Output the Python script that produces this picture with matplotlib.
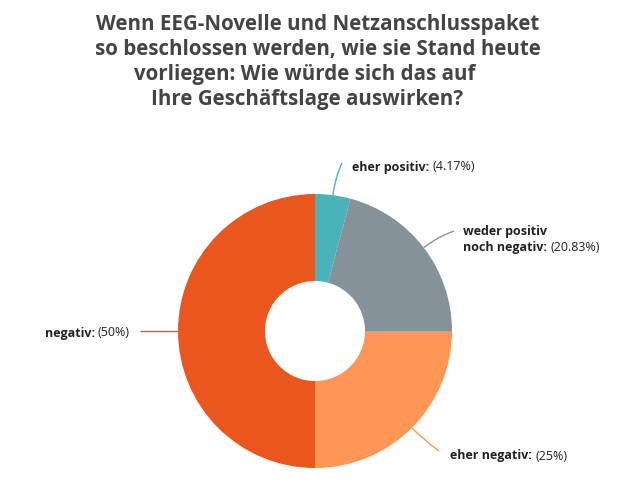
import numpy as np
import matplotlib
matplotlib.use("Agg")
import matplotlib.pyplot as plt
from matplotlib.path import Path
from matplotlib.patches import PathPatch

plt.rcParams['font.family'] = ['Open Sans', 'DejaVu Sans']

# data
categories = ["eher positiv", "weder positiv\nnoch negativ", "eher negativ", "negativ"]
values = [4.17, 20.83, 25, 50]
colors = ["#4ab3b9", "#86929a", "#ff9655", "#eb561e"]
title_lines = ["Wenn EEG-Novelle und Netzanschlusspaket",
               "so beschlossen werden, wie sie Stand heute",
               "vorliegen: Wie würde sich das auf",
               "Ihre Geschäftslage auswirken?"]

W, H = 643, 490
fig = plt.figure(figsize=(W / 100, H / 100), dpi=100)
ax = fig.add_axes([0, 0, 1, 1])

cx, cy = 315, H - 331
R, r_hole = 137, 50
ax.pie(values, colors=colors, startangle=90, counterclock=False,
       center=(cx, cy), radius=R, frame=True,
       wedgeprops=dict(width=R - r_hole, linewidth=0))
ax.set_xlim(0, W)
ax.set_ylim(0, H)
ax.set_aspect('equal')
ax.axis('off')

# connector end points (pixels from top-left) and text anchors
ends = [(342, 163), (454, 231), (439, 451), (140, 331)]
text_pos = [(352, 167, 'left'), (463, 240, 'left'), (450, 456, 'left'), (130, 333, 'right')]

cum = np.cumsum([0] + values)
fs = 9
for i, (cat, v) in enumerate(zip(categories, values)):
    mid = (cum[i] + v / 2) / 100 * 2 * np.pi
    ux, uy = np.sin(mid), np.cos(mid)
    p0 = (cx + R * ux, cy + R * uy)
    p1 = (cx + (R + 18) * ux, cy + (R + 18) * uy)
    ex, ey = ends[i]
    p2 = (ex, H - ey)
    if i == 3:
        path = Path([p0, p2], [Path.MOVETO, Path.LINETO])
    else:
        path = Path([p0, p1, p2], [Path.MOVETO, Path.CURVE3, Path.CURVE3])
    ax.add_patch(PathPatch(path, facecolor='none', edgecolor=colors[i], lw=1))

    tx, ty, ha = text_pos[i]
    lines = cat.split("\n")
    pct = f"({v:g}%)"
    t = None
    if len(lines) == 2:
        ax.text(tx, H - (ty - 8), lines[0], fontsize=fs, fontweight='bold',
                color='#222222', ha='left', va='center')
        t = ax.text(tx, H - (ty + 8), lines[1] + ": ", fontsize=fs, fontweight='bold',
                    color='#222222', ha='left', va='center')
    if ha == 'left':
        if t is None:
            t = ax.text(tx, H - ty, lines[0] + ": ", fontsize=fs, fontweight='bold',
                        color='#222222', ha='left', va='center')
        ax.annotate(pct, xycoords=t, xy=(1, 0.5), va='center', ha='left',
                    fontsize=fs, color='#222222')
    else:
        t2 = ax.text(tx, H - ty, pct, fontsize=fs, color='#222222',
                     ha='right', va='center')
        ax.annotate(lines[0] + ": ", xycoords=t2, xy=(0, 0.5), va='center', ha='right',
                    fontsize=fs, fontweight='bold', color='#222222')

title_x = [96, 95, 134, 151]
for k, line in enumerate(title_lines):
    ax.text(title_x[k], H - (25 + 25 * k), line, fontsize=14.8, fontweight='bold',
            color='#444444', ha='left', va='center')

fig.savefig("out.png", dpi=100)
